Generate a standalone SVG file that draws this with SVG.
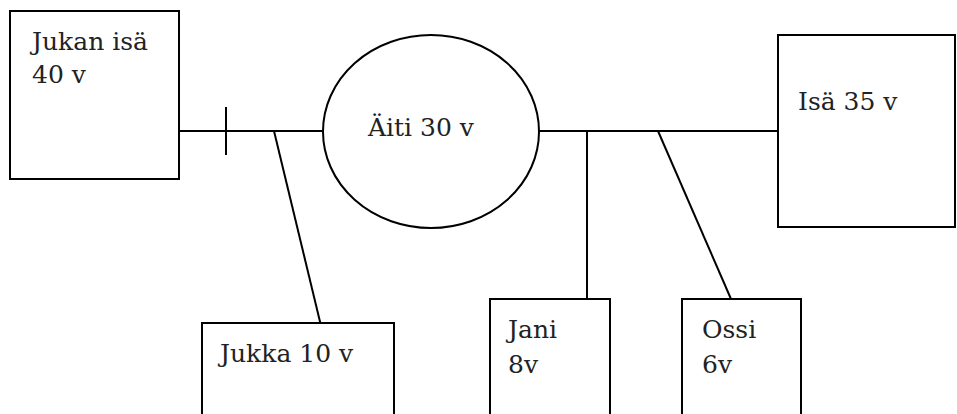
<svg xmlns="http://www.w3.org/2000/svg" width="957" height="414" viewBox="0 0 957 414">
<style>
.s{fill:#fff;stroke:#000;stroke-width:2}
.l{stroke:#000;stroke-width:2;fill:none}
.t{font-family:'DejaVu Serif',serif;font-size:25px;fill:#222}
</style>
<rect width="957" height="414" fill="#fff"/>
<g id="connectors">
<line class="l" x1="179" y1="131" x2="323" y2="131"/>
<line class="l" x1="226" y1="107" x2="226" y2="155"/>
<line class="l" x1="274" y1="131" x2="322" y2="330"/>
<line class="l" x1="539" y1="131" x2="778" y2="131"/>
<line class="l" x1="587" y1="131" x2="587" y2="299"/>
<line class="l" x1="658" y1="131" x2="731" y2="299"/>
</g>
<g id="jukan-isa">
<rect class="s" x="10" y="11" width="169" height="168"/>
<text class="t" x="32" y="50">Jukan isä</text>
<text class="t" x="32" y="83">40 v</text>
</g>
<g id="aiti">
<ellipse class="s" cx="431" cy="131.5" rx="108" ry="96.5"/>
<text class="t" x="368" y="136">Äiti 30 v</text>
</g>
<g id="isa">
<rect class="s" x="778" y="35" width="177" height="192"/>
<text class="t" x="798" y="110">Isä 35 v</text>
</g>
<g id="jukka">
<rect class="s" x="202" y="323" width="192" height="100"/>
<text class="t" x="220" y="362">Jukka 10 v</text>
</g>
<g id="jani">
<rect class="s" x="490" y="299" width="120" height="124"/>
<text class="t" x="508" y="338">Jani</text>
<text class="t" x="508" y="373">8v</text>
</g>
<g id="ossi">
<rect class="s" x="682" y="299" width="119" height="124"/>
<text class="t" x="702" y="338">Ossi</text>
<text class="t" x="702" y="373">6v</text>
</g>
</svg>
